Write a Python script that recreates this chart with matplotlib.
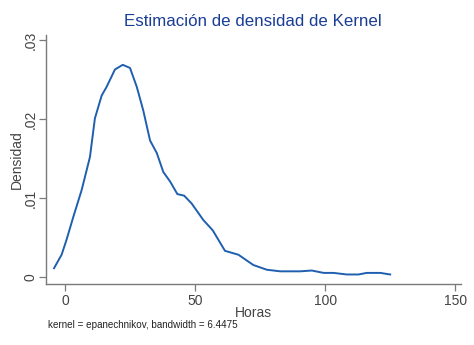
import matplotlib
matplotlib.use("Agg")
import matplotlib.pyplot as plt

# densidad estimada
horas = [-4.2, -1.3, 0.6, 3.2, 6.4, 9.6, 11.5, 14.1, 16.0, 19.2, 22.2, 25.0,
         27.6, 30.1, 32.7, 35.3, 37.8, 40.4, 43.2, 45.8, 48.7, 53.2, 56.8,
         61.5, 66.7, 72.4, 77.6, 82.7, 90.4, 94.9, 99.4, 103.2, 108.3, 112.8,
         116.0, 121.2, 125.0]
densidad = [0.0011, 0.0028, 0.0047, 0.0076, 0.0110, 0.0152, 0.0201, 0.0230,
            0.0241, 0.0263, 0.0269, 0.0265, 0.0241, 0.0211, 0.0173, 0.0157,
            0.0133, 0.0121, 0.0105, 0.0103, 0.0093, 0.0072, 0.0059, 0.0033,
            0.0028, 0.0015, 0.0009, 0.0007, 0.0007, 0.0008, 0.0005, 0.0005,
            0.0003, 0.0003, 0.0005, 0.0005, 0.0003]

xticks = [0, 50, 100, 150]
yticks = [0, 0.01, 0.02, 0.03]
ylabels = ["0", ".01", ".02", ".03"]

plt.rcParams['font.family'] = ['Liberation Sans', 'DejaVu Sans']

fig = plt.figure(figsize=(4.74, 3.45), dpi=100)
ax = fig.add_axes([0.097, 0.177, 0.876, 0.722])

ax.plot(horas, densidad, color="#1f5fb0", lw=1.4)

ax.set_xlim(-7.3, 152.3)
ax.set_ylim(-0.0009, 0.0307)
ax.set_xticks(xticks)
ax.set_yticks(yticks)
ax.set_yticklabels(ylabels, rotation=90, va="center")

for s in ["top", "right"]:
    ax.spines[s].set_visible(False)
for s in ["left", "bottom"]:
    ax.spines[s].set_color("#7a7a7a")
    ax.spines[s].set_linewidth(1.0)
ax.tick_params(colors="#7a7a7a", labelcolor="#444444", labelsize=10, length=5, width=0.9)
ax.tick_params(axis="x", pad=2)
ax.tick_params(axis="y", pad=1)

ax.set_xlabel("Horas", fontsize=10, color="#444444", labelpad=-1)
ax.set_ylabel("Densidad", fontsize=10, color="#444444", labelpad=0)

fig.text(0.534, 0.937, "Estimación de densidad de Kernel", ha="center", va="center",
         fontsize=12.2, color="#1a3d96")
fig.text(0.101, 0.057, "kernel = epanechnikov, bandwidth = 6.4475", ha="left", va="center",
         fontsize=7.1, color="#222222")

fig.savefig("out.png", dpi=100)
